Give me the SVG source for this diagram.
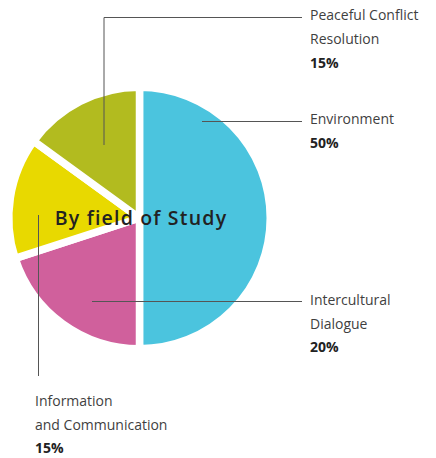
<svg xmlns="http://www.w3.org/2000/svg" width="436" height="458" viewBox="0 0 436 458">
<style>
.slice{stroke:#fff;stroke-width:7.5;stroke-linejoin:round}
.lbl{font-family:"Open Sans","Noto Sans",sans-serif;font-size:14px;fill:#3f3f3f}
.pct{font-weight:bold;fill:#222}
.ln{fill:none;stroke:#555;stroke-width:1}
</style>
<rect width="436" height="458" fill="#fff"/>
<g id="pie">
<path id="slice-environment" class="slice" fill="#4bc4de" d="M139.5,218 L139.5,87.25 A130.75,130.75 0 0 1 139.5,348.75 Z"/>
<path id="slice-intercultural" class="slice" fill="#d0609c" d="M139.5,218 L139.5,348.75 A130.75,130.75 0 0 1 15.15,258.4 Z"/>
<path id="slice-information" class="slice" fill="#e8d900" d="M139.5,218 L15.15,258.4 A130.75,130.75 0 0 1 33.72,141.15 Z"/>
<path id="slice-peaceful" class="slice" fill="#b2bb1f" d="M139.5,218 L33.72,141.15 A130.75,130.75 0 0 1 139.5,87.25 Z"/>
</g>
<g id="title">
<text x="141" y="225" text-anchor="middle" font-family="'Open Sans','Noto Sans',sans-serif" font-size="19.5" font-weight="600" letter-spacing="1.2" fill="#222">By field of Study</text>
</g>
<g id="connectors">
<path class="ln" d="M104,145 V17.5 H302"/>
<path class="ln" d="M202,121.5 H302"/>
<path class="ln" d="M92,301.5 H302"/>
<path class="ln" d="M38.5,215 V376"/>
</g>
<g id="label-peaceful">
<text class="lbl" x="310" y="20">Peaceful Conflict</text>
<text class="lbl" x="310" y="44">Resolution</text>
<text class="lbl pct" x="310" y="67.5">15%</text>
</g>
<g id="label-environment">
<text class="lbl" x="310" y="124">Environment</text>
<text class="lbl pct" x="310" y="147.5">50%</text>
</g>
<g id="label-intercultural">
<text class="lbl" x="310" y="305">Intercultural</text>
<text class="lbl" x="310" y="328.5">Dialogue</text>
<text class="lbl pct" x="310" y="352">20%</text>
</g>
<g id="label-information">
<text class="lbl" x="35" y="406">Information</text>
<text class="lbl" x="35" y="429.5">and Communication</text>
<text class="lbl pct" x="35" y="453">15%</text>
</g>
</svg>
